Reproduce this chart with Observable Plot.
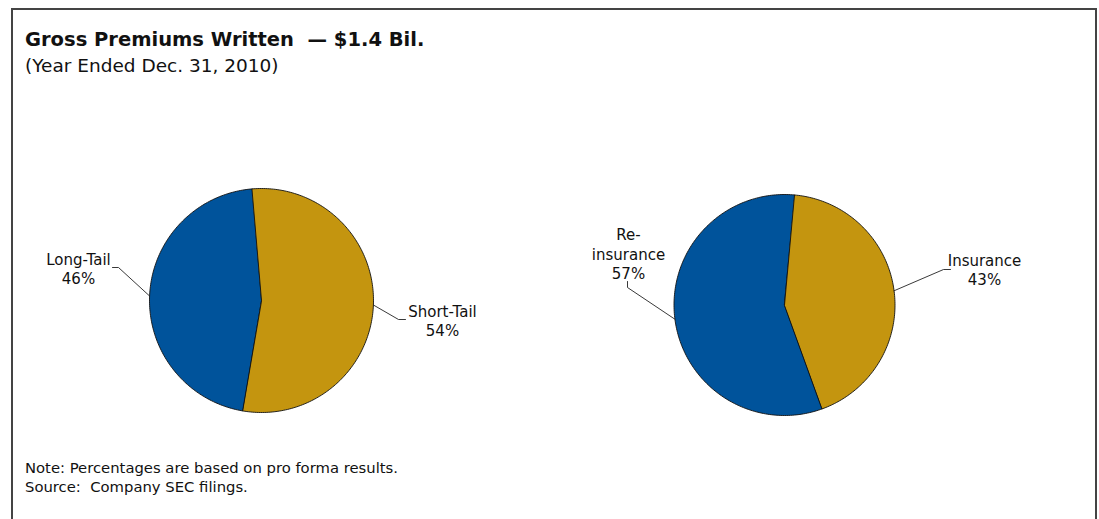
<!DOCTYPE html>
<html><head><meta charset="utf-8">
<script src="https://cdn.jsdelivr.net/npm/d3@7"></script>
<script src="https://cdn.jsdelivr.net/npm/@observablehq/plot@0.6"></script>
<style>
html,body{margin:0;padding:0;background:#fff;}
body{width:1099px;height:519px;overflow:hidden;position:relative;font-family:"DejaVu Sans",sans-serif;color:#111;}
#frame{position:absolute;left:11px;top:8px;width:1086px;height:600px;border:2px solid #444;box-sizing:border-box;}
#title{position:absolute;left:25px;top:29px;font-size:19.5px;font-weight:bold;line-height:22px;white-space:pre;}
#subtitle{position:absolute;left:25px;top:55px;font-size:18.5px;line-height:22px;white-space:pre;}
#chart{position:absolute;left:0;top:75px;}
#notes{position:absolute;left:25px;top:458px;font-size:14.8px;line-height:19px;white-space:pre;}
</style></head>
<body>
<div id="frame"></div>
<div id="title">Gross Premiums Written  — $1.4 Bil.</div>
<div id="subtitle">(Year Ended Dec. 31, 2010)</div>
<div id="chart"></div>
<div id="notes">Note: Percentages are based on pro forma results.
Source:  Company SEC filings.</div>
<script>
// ---- data ----
const leftCategories = ["Long-Tail", "Short-Tail"];
const leftValues = [46, 54];
const leftLabels = ["Long-Tail\n46%", "Short-Tail\n54%"];
const rightCategories = ["Re-insurance", "Insurance"];
const rightValues = [57, 43];
const rightLabels = ["Re-\ninsurance\n57%", "Insurance\n43%"];

// ---- layout / style ----
const BLUE = "#00539b", GOLD = "#c4950f";
const W = 1099, H = 375;
const pies = [
  {cats: leftCategories, values: leftValues, labels: leftLabels, colors: [BLUE, GOLD],
   cx: 261, cy: 225, r: 112, start: 189.5,
   labelAt: [[78, 193], [442, 245]],
   elbow: [[[118, 192], [112, 192]], [[398, 244], [405, 244]]]},
  {cats: rightCategories, values: rightValues, labels: rightLabels, colors: [BLUE, GOLD],
   cx: 784, cy: 229.5, r: 110.5, start: 160,
   labelAt: [[628, 178], [984, 193.5]],
   elbow: [[[627, 212], [627, 206]], [[943, 194], [950, 194]]]}
];

const slicePts = [], leaderPts = [], labelRows = [];
pies.forEach((p, pi) => {
  const total = d3.sum(p.values);
  let a0 = p.start;
  p.values.forEach((v, i) => {
    const span = v / total * 360;
    const key = pi + "-" + i;
    const pt = a => ({key, color: p.colors[i],
      x: p.cx + p.r * Math.sin(a * Math.PI / 180),
      y: p.cy - p.r * Math.cos(a * Math.PI / 180)});
    slicePts.push({key, color: p.colors[i], x: p.cx, y: p.cy});
    const n = Math.ceil(span);
    for (let k = 0; k <= n; k++) slicePts.push(pt(a0 + span * k / n));
    const mid = pt(a0 + span / 2);
    leaderPts.push({key, x: mid.x, y: mid.y});
    p.elbow[i].forEach(([x, y]) => leaderPts.push({key, x, y}));
    labelRows.push({x: p.labelAt[i][0], y: p.labelAt[i][1], text: p.labels[i]});
    a0 += span;
  });
});

const chart = Plot.plot({
  width: W, height: H,
  margin: 0,
  x: {domain: [0, W], range: [0, W], axis: null},
  y: {domain: [0, H], range: [0, H], axis: null},
  color: {type: "identity"},
  marks: [
    Plot.line(slicePts, {x: "x", y: "y", z: "key", fill: "color", stroke: "#111", strokeWidth: 0.9, curve: "linear-closed"}),
    Plot.line(leaderPts, {x: "x", y: "y", z: "key", stroke: "#222", strokeWidth: 0.9}),
    Plot.text(labelRows, {x: "x", y: "y", text: "text", fontSize: 15, lineHeight: 1.3, fill: "#111", fontFamily: "DejaVu Sans"})
  ]
});
document.getElementById("chart").appendChild(chart);
</script>
</body></html>
